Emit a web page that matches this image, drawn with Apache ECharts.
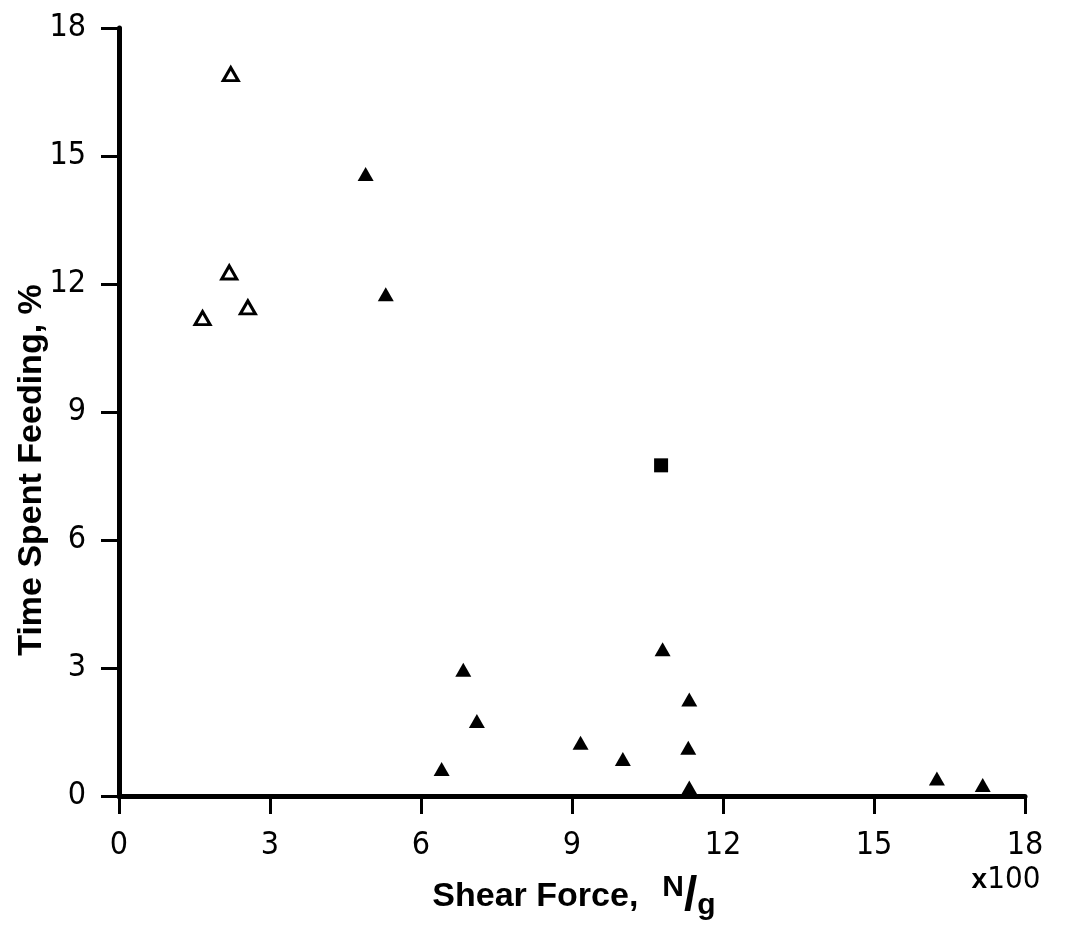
<!DOCTYPE html>
<html lang="en">
<head>
    <meta charset="UTF-8">
    <title>Time Spent Feeding vs Shear Force</title>
    <script src="https://cdn.jsdelivr.net/npm/echarts@6/dist/echarts.min.js"></script>
    <style>
        html, body { margin: 0; padding: 0; background: #fff; }
        #chart { width: 1070px; height: 941px; }
    </style>
</head>
<body>
    <div id="chart"></div>
    <script>
        // shear force (x100 N/g) and time spent feeding (%)
        const openX = [2.22, 2.19, 2.56, 1.66];
        const openY = [16.92, 12.27, 11.45, 11.2];

        const filledX = [4.90, 5.30, 6.84, 7.11, 6.41, 9.17, 10.01, 10.80, 11.33, 11.31, 11.33, 16.25, 17.16];
        const filledY = [14.58, 11.76, 2.96, 1.76, 0.63, 1.25, 0.87, 3.44, 2.26, 1.13, 0.20, 0.41, 0.26];

        const squareX = [10.77];
        const squareY = [7.75];

        const ticks = [0, 3, 6, 9, 12, 15, 18];

        const pairs = (xs, ys) => xs.map((x, i) => [x, ys[i]]);

        const tickFont = "'Liberation Sans Narrow', 'DejaVu Sans Condensed', 'Liberation Sans', sans-serif";
        const titleFont = "'Liberation Sans', 'DejaVu Sans', sans-serif";

        const axisCommon = {
            type: 'value',
            min: 0,
            max: 18,
            interval: 3,
            splitLine: { show: false },
            axisLine: { show: true, onZero: false, lineStyle: { color: '#000', width: 5 } },
            axisTick: { show: true, length: 18, lineStyle: { color: '#000', width: 3 } },
            axisLabel: {
                color: '#000',
                fontSize: 32,
                fontFamily: tickFont,
                formatter: v => ticks.includes(v) ? String(v) : ''
            }
        };

        const chart = echarts.init(document.getElementById('chart'));
        chart.setOption({
            backgroundColor: '#fff',
            animation: false,
            grid: { left: 119, right: 45, top: 28, bottom: 145 },
            xAxis: Object.assign({}, axisCommon, {
                axisLabel: Object.assign({}, axisCommon.axisLabel, { margin: 34 })
            }),
            yAxis: Object.assign({}, axisCommon, {
                axisLabel: Object.assign({}, axisCommon.axisLabel, { margin: 33 })
            }),
            series: [
                {
                    type: 'scatter',
                    data: pairs(openX, openY),
                    symbol: 'triangle',
                    symbolSize: [15, 13],
                    itemStyle: { color: '#fff', borderColor: '#000', borderWidth: 3, opacity: 1 }
                },
                {
                    type: 'scatter',
                    data: pairs(filledX, filledY),
                    symbol: 'triangle',
                    symbolSize: [16, 14],
                    itemStyle: { color: '#000', opacity: 1 }
                },
                {
                    type: 'scatter',
                    data: pairs(squareX, squareY),
                    symbol: 'rect',
                    symbolSize: 14,
                    itemStyle: { color: '#000', opacity: 1 }
                }
            ],
            graphic: [
                {
                    type: 'text',
                    x: 574,
                    y: 897,
                    style: {
                        text: '{t|Shear Force,}{n|N}{s|/}{g|g}',
                        align: 'center',
                        verticalAlign: 'middle',
                        rich: {
                            t: { fontSize: 34, fontWeight: 'bold', fontFamily: titleFont, fill: '#000' },
                            n: { fontSize: 30, fontWeight: 'bold', fontFamily: titleFont, fill: '#000', verticalAlign: 'top', padding: [0, 0, 16, 24] },
                            s: { fontSize: 48, fontWeight: 'bold', fontFamily: titleFont, fill: '#000' },
                            g: { fontSize: 30, fontWeight: 'bold', fontFamily: titleFont, fill: '#000', verticalAlign: 'bottom', padding: [16, 0, 0, 0] }
                        }
                    }
                },
                {
                    type: 'text',
                    x: 1006,
                    y: 880,
                    style: {
                        text: '{x|x}{v|100}',
                        align: 'center',
                        verticalAlign: 'middle',
                        rich: {
                            x: { fontSize: 28, fontWeight: 'bold', fontFamily: titleFont, fill: '#000' },
                            v: { fontSize: 31, fontFamily: tickFont, fill: '#000' }
                        }
                    }
                },
                {
                    type: 'text',
                    x: 32,
                    y: 470,
                    rotation: Math.PI / 2,
                    style: {
                        text: 'Time Spent Feeding, %',
                        align: 'center',
                        verticalAlign: 'middle',
                        fontSize: 34,
                        fontWeight: 'bold',
                        fontFamily: titleFont,
                        fill: '#000'
                    }
                }
            ]
        });
    </script>
</body>
</html>
